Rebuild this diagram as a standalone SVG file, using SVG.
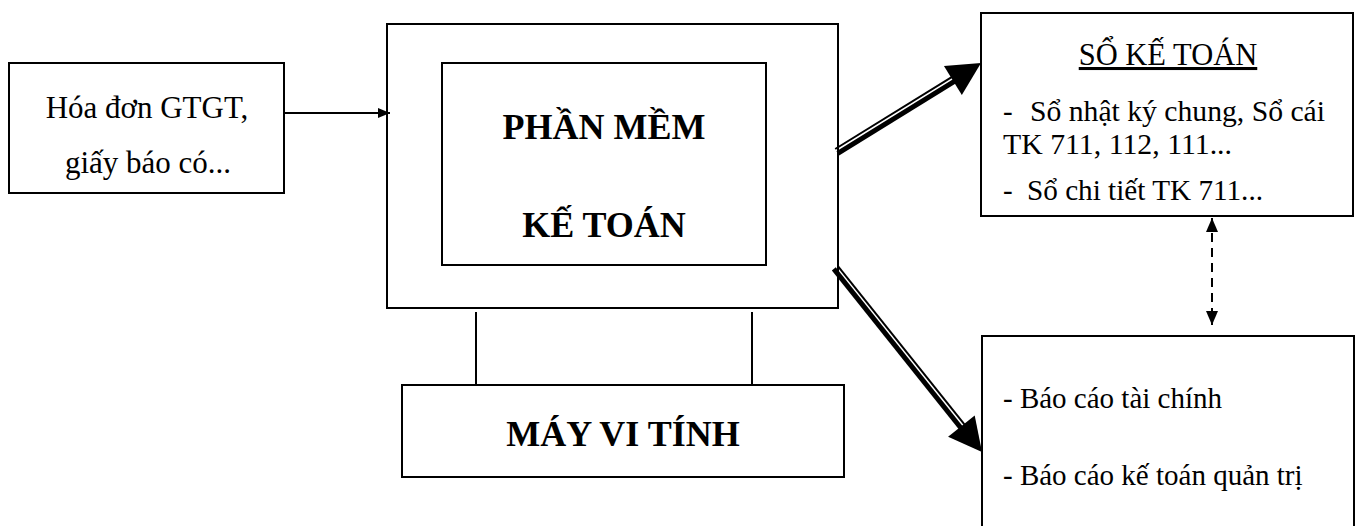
<svg xmlns="http://www.w3.org/2000/svg" width="1362" height="526" viewBox="0 0 1362 526">
<style>
.box{fill:#fff;stroke:#000;stroke-width:2}
.t{font-family:"Liberation Serif","Times New Roman",serif;font-size:29px;fill:#000}
.b{font-family:"Liberation Serif","Times New Roman",serif;font-size:36px;font-weight:bold;fill:#000}
.ln{stroke:#000;stroke-width:2;fill:none}
</style>
<defs>
<marker id="ah" viewBox="0 0 12 10" refX="12" refY="5" markerWidth="12" markerHeight="10" markerUnits="userSpaceOnUse" orient="auto">
<path d="M0,0 L12,5 L0,10 z" fill="#000"/>
</marker>
<marker id="dh" viewBox="0 0 14 12" refX="14" refY="6" markerWidth="14" markerHeight="12" markerUnits="userSpaceOnUse" orient="auto-start-reverse">
<path d="M0,0 L14,6 L0,12 z" fill="#000"/>
</marker>
</defs>
<rect width="1362" height="526" fill="#fff"/>
<g id="input">
<rect class="box" x="9" y="63" width="275" height="130"/>
<text class="t" x="147" y="118" text-anchor="middle" style="font-size:31px">Hóa đơn GTGT,</text>
<text class="t" x="148" y="173" text-anchor="middle" style="font-size:31px">giấy báo có...</text>
</g>
<g id="computer-frame">
<rect class="box" x="387" y="24" width="451" height="284"/>
</g>
<g id="software">
<rect class="box" x="442" y="63" width="324" height="202"/>
<text class="b" x="604" y="139" text-anchor="middle">PHẦN MỀM</text>
<text class="b" x="604" y="237" text-anchor="middle">KẾ TOÁN</text>
</g>
<g id="computer">
<rect class="box" x="402" y="385" width="442" height="92"/>
<text class="b" x="623" y="446" text-anchor="middle">MÁY VI TÍNH</text>
</g>
<g id="ledger">
<rect class="box" x="981" y="13" width="372" height="203"/>
<text class="t" x="1168" y="65" text-anchor="middle" text-decoration="underline" style="font-size:30.5px">SỔ KẾ TOÁN</text>
<text class="t" x="1003" y="121">-</text>
<text class="t" x="1030" y="121" textLength="295" lengthAdjust="spacingAndGlyphs">Sổ nhật ký chung, Sổ cái</text>
<text class="t" x="1003" y="154" textLength="229" lengthAdjust="spacingAndGlyphs">TK 711, 112, 111...</text>
<text class="t" x="1003" y="200">-</text>
<text class="t" x="1027" y="200" textLength="236" lengthAdjust="spacingAndGlyphs">Sổ chi tiết TK 711...</text>
</g>
<g id="reports">
<path class="ln" d="M982,526 V336 H1354 V526"/>
<text class="t" x="1003" y="408">- Báo cáo tài chính</text>
<text class="t" x="1003" y="485">- Báo cáo kế toán quản trị</text>
</g>
<g id="connectors">
<line class="ln" x1="476" y1="312" x2="476" y2="386"/>
<line class="ln" x1="752" y1="312" x2="752" y2="386"/>
<line class="ln" x1="284" y1="113" x2="390" y2="113" marker-end="url(#ah)"/>
<line class="ln" x1="1212" y1="218" x2="1212" y2="325" stroke-dasharray="9,6" marker-start="url(#dh)" marker-end="url(#dh)"/>
<line x1="835.2" y1="149.0" x2="955.3" y2="74.8" stroke="#000" stroke-width="2"/>
<line x1="837.8" y1="153.3" x2="958.0" y2="79.1" stroke="#000" stroke-width="5"/>
<polygon points="981,63 943.96,65.92 961.84,94.88" fill="#000"/>
<line x1="837.7" y1="265.8" x2="967.2" y2="427.9" stroke="#000" stroke-width="2"/>
<line x1="833.8" y1="268.9" x2="963.3" y2="431.0" stroke="#000" stroke-width="5"/>
<polygon points="982,452 974.7,415.6 948.1,436.8" fill="#000"/>
</g>
</svg>
